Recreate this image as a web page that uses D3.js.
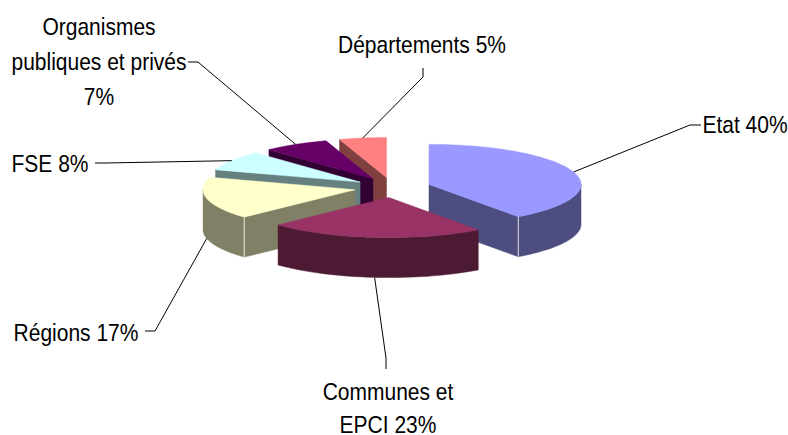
<!DOCTYPE html>
<html>
<head>
<meta charset="utf-8">
<script src="https://cdn.jsdelivr.net/npm/d3@7/dist/d3.min.js"></script>
<style>
  html, body { margin: 0; background: #fff; }
  text { font-family: "Liberation Sans", Arial, sans-serif; font-size: 24px; fill: #000; }
</style>
</head>
<body>
<div id="ChartContainer"></div>
<script>
// Data, clockwise from 12 o'clock
var categories = ["Etat", "Communes et EPCI", "Régions", "FSE", "Organismes publiques et privés", "Départements"]
var values = [40, 23, 17, 8, 7, 5]
var colors = ["#9999ff", "#993366", "#ffffcc", "#ccffff", "#660066", "#ff8080"]
var labelLines = [
  ["Etat 40%"],
  ["Communes et", "EPCI 23%"],
  ["Régions 17%"],
  ["FSE 8%"],
  ["Organismes", "publiques et privés", "7%"],
  ["Départements 5%"]
]

var fullWidth = 788
var fullHeight = 435

// Pie geometry, seen from above: ellipse, wall height and explosion
var cx = 392.5
var cy = 187.5
var rx = 152
var ry = 40
var depth = 40
var explode = 0.2524
var textSqueeze = 0.875

// Leader elbows and label anchors, same order as categories
var labelLayout = [
  {elbow: [690, 125], end: [701, 125], x: 745, y: 133, lineHeight: 0},
  {elbow: [386, 358], end: [386, 369], x: 388, y: 400, lineHeight: 33},
  {elbow: [155, 331], end: [145, 331], x: 76, y: 341, lineHeight: 0},
  {elbow: [105, 163], end: [95, 163], x: 50, y: 172, lineHeight: 0},
  {elbow: [198, 62], end: [188, 62], x: 99, y: 35, lineHeight: 35},
  {elbow: [423, 77], end: [423, 68], x: 422, y: 53, lineHeight: 0}
]

// Back to front, so that nearer slices cover farther ones
var drawOrder = [5, 4, 3, 2, 0, 1]

var svg = d3.select("#ChartContainer").append("svg")
  .attr("width", fullWidth)
  .attr("height", fullHeight)
  .style("display", "block")

var arcs = d3.pie().sort(null)(values)

var slices = arcs.map((a, i) => {
  var mid = (a.startAngle + a.endAngle) / 2
  var c = d3.rgb(colors[i])
  return {
    i: i,
    start: a.startAngle,
    end: a.endAngle,
    mid: mid,
    ox: cx + explode * rx * Math.sin(mid),
    oy: cy - explode * ry * Math.cos(mid),
    top: colors[i],
    side: d3.rgb(c.r / 2, c.g / 2, c.b / 2).formatHex()
  }
})

var pt = (s, angle, r, drop) => [
  s.ox + r * rx * Math.sin(angle),
  s.oy - r * ry * Math.cos(angle) + (drop || 0)
]

var line = d3.line()

var arcPoints = (s, from, to, drop) => d3.range(0, 61).map(k => pt(s, from + (to - from) * k / 60, 1, drop))

var PI = Math.PI

var g = svg.append("g").attr("class", "pie")

drawOrder.forEach(i => {
  var s = slices[i]
  var sg = g.append("g").attr("class", "slice")

  // Flat cut face, only when it looks toward the viewer
  var faceAngle = null
  if (s.start > PI) faceAngle = s.start
  else if (s.end < PI) faceAngle = s.end
  if (faceAngle !== null) {
    sg.append("path")
      .attr("d", line([pt(s, 0, 0), pt(s, faceAngle, 1), pt(s, faceAngle, 1, depth), pt(s, 0, 0, depth)]) + "Z")
      .attr("fill", s.side)
      .attr("stroke", s.side)
      .attr("stroke-width", 0.5)
  }

  // Rim wall on the front half of the ellipse
  var wallFrom = Math.max(s.start, PI / 2)
  var wallTo = Math.min(s.end, 3 * PI / 2)
  if (wallFrom < wallTo) {
    sg.append("path")
      .attr("d", line(arcPoints(s, wallFrom, wallTo, 0).concat(arcPoints(s, wallTo, wallFrom, depth))) + "Z")
      .attr("fill", s.side)
      .attr("stroke", s.side)
      .attr("stroke-width", 0.5)
  }

  // Pale edge where the cut face meets the rim
  if (faceAngle !== null && wallFrom < wallTo) {
    sg.append("path")
      .attr("d", line([pt(s, faceAngle, 1), pt(s, faceAngle, 1, depth)]))
      .attr("stroke", d3.interpolateRgb(s.side, "#fff")(0.7))
      .attr("stroke-width", 1.2)
      .attr("fill", "none")
  }

  // Top surface
  sg.append("path")
    .attr("d", line([pt(s, 0, 0)].concat(arcPoints(s, s.start, s.end, 0))) + "Z")
    .attr("fill", s.top)
    .attr("stroke", s.top)
    .attr("stroke-width", 0.5)
})

// Leader lines start on the rim at the middle of each slice
slices.forEach(s => {
  var front = Math.cos(s.mid) < 0
  var l = labelLayout[s.i]
  svg.append("path")
    .attr("class", "leader")
    .attr("d", line([pt(s, s.mid, 1, front ? depth : 0), l.elbow, l.end]))
    .attr("fill", "none")
    .attr("stroke", "#000")
    .attr("stroke-width", 1)
})

// Labels, narrowed like the original's condensed text
labelLines.forEach((lines, i) => {
  var l = labelLayout[i]
  lines.forEach((txt, k) => {
    svg.append("text")
      .attr("class", "label")
      .attr("transform", `translate(${l.x},${l.y + k * l.lineHeight}) scale(${textSqueeze},1)`)
      .attr("text-anchor", "middle")
      .text(txt)
  })
})
</script>
</body>
</html>
